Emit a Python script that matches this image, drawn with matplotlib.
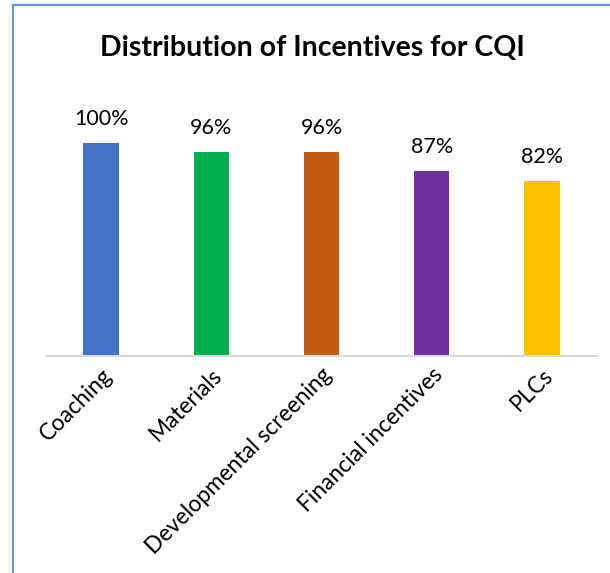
import matplotlib.pyplot as plt
from matplotlib.lines import Line2D

# data
categories = ["Coaching", "Materials", "Developmental screening", "Financial incentives", "PLCs"]
values = [1.00, 0.96, 0.96, 0.87, 0.82]
labels = ["100%", "96%", "96%", "87%", "82%"]
colors = ["#4472C4", "#00B050", "#C55A11", "#7030A0", "#FFC000"]

plt.rcParams['font.family'] = ['Lato', 'DejaVu Sans']

fig = plt.figure(figsize=(6.1, 5.73), dpi=100)
ax = fig.add_axes([0.0754, 0.3787, 0.9033, 0.4461])

x = range(len(categories))
ax.bar(x, values, width=0.32, color=colors)
for xi, v, lab in zip(x, values, labels):
    ax.text(xi, v + 0.065, lab, ha='center', va='bottom', fontsize=15.5)

ax.set_xlim(-0.5, len(categories) - 0.5)
ax.set_ylim(0, 1.2)
ax.set_xticks(list(x))
ax.set_xticklabels(categories, rotation=45, ha='right', rotation_mode='anchor', fontsize=16.3)
ax.tick_params(axis='x', length=0, pad=6)
ax.set_yticks([])
for s in ['top', 'right', 'left']:
    ax.spines[s].set_visible(False)
ax.spines['bottom'].set_color('#D9D9D9')
ax.spines['bottom'].set_linewidth(1.5)

fig.text(0.512, 0.917, "Distribution of Incentives for CQI", ha='center', va='center',
         fontsize=20.5, fontweight='bold')

# chart border (left and top only visible)
fig.add_artist(Line2D([13/610, 13/610], [0, 1 - 5/573], color='#5B9BD5', lw=1.5))
fig.add_artist(Line2D([13/610, 1], [1 - 5/573, 1 - 5/573], color='#5B9BD5', lw=1.5))

fig.savefig("out.png", dpi=100)
